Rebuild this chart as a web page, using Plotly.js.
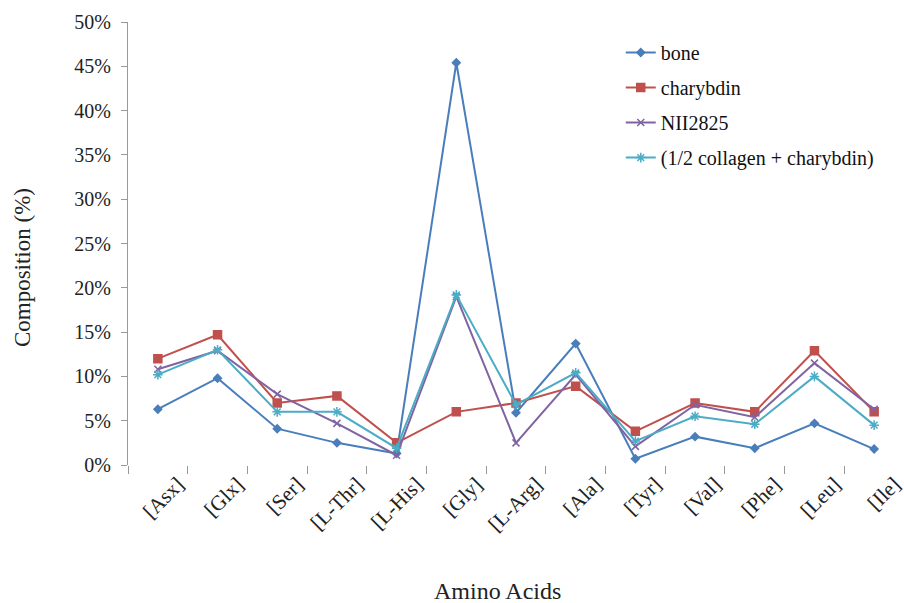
<!DOCTYPE html>
<html>
<head>
<meta charset="utf-8">
<script src="https://cdn.plot.ly/plotly-3.0.1.min.js"></script>
<style>html,body{margin:0;padding:0;background:#fff}#chart{width:904px;height:603px}</style>
</head>
<body>
<div id="chart"></div>
<script>
const categories = ["[Asx]","[Glx]","[Ser]","[L-Thr]","[L-His]","[Gly]","[L-Arg]","[Ala]","[Tyr]","[Val]","[Phe]","[Leu]","[Ile]"];
const bone =       [0.063,0.098,0.041,0.025,0.013,0.454,0.059,0.137,0.007,0.032,0.019,0.047,0.018];
const charybdin =  [0.120,0.147,0.070,0.078,0.025,0.060,0.070,0.089,0.038,0.070,0.060,0.129,0.060];
const nii2825 =    [0.108,0.129,0.080,0.047,0.011,0.190,0.025,0.102,0.021,0.068,0.054,0.115,0.063];
const collagenMix =[0.102,0.130,0.060,0.060,0.019,0.192,0.068,0.104,0.027,0.055,0.046,0.100,0.045];
const seriesNames = ["bone","charybdin","NII2825","(1/2 collagen + charybdin)"];

const font = "Liberation Serif";
function tr(y, name, color, symbol, size, group){
  return {x: categories, y: y, name: name, type: "scatter", mode: "lines+markers",
    legendgroup: group,
    line: {color: color, width: 2},
    marker: {symbol: symbol, size: size, color: color, line: {color: color, width: 1.5}}};
}
const data = [
  tr(bone, seriesNames[0], "#4A7EBB", "diamond", 6, "a"),
  tr(charybdin, seriesNames[1], "#C0504D", "square", 8, "b"),
  tr(nii2825, seriesNames[2], "#8064A2", "x-thin-open", 7, "c"),
  tr(collagenMix, seriesNames[3], "#4BACC6", "asterisk-open", 8, "d")
];
const layout = {
  width: 904, height: 603,
  margin: {l: 128, r: 0, t: 22, b: 138},
  paper_bgcolor: "#fff", plot_bgcolor: "#fff",
  font: {family: font, size: 16, color: "#222"},
  showlegend: true,
  legend: {x: 0.635, y: 0.975, xanchor: "left", yanchor: "top", font: {family: font, size: 20, color: "#111"},
    traceorder: "grouped", tracegroupgap: 6, bgcolor: "rgba(0,0,0,0)", itemwidth: 30},
  xaxis: {type: "category", range: [-0.5, 12.5], showgrid: false, zeroline: false, showline: false,
    ticks: "outside", tickson: "boundaries", ticklen: 8, tickcolor: "#999", tickangle: -45,
    ticklabelshift: 20, ticklabelstandoff: 2,
    tickfont: {family: font, size: 21, color: "#222"}},
  yaxis: {range: [0, 0.5], dtick: 0.05, tickformat: ".0%", showgrid: false, zeroline: false,
    showline: true, linecolor: "#999", linewidth: 1, ticks: "outside", ticklen: 6, tickcolor: "#999",
    ticklabelstandoff: 6,
    tickfont: {family: font, size: 20, color: "#222"}},
  annotations: [
    {text: "Composition (%)", xref: "paper", yref: "paper", x: -0.135, y: 0.445, xanchor: "center", yanchor: "middle",
     textangle: -90, showarrow: false, font: {family: font, size: 23, color: "#222"}},
    {text: "Amino Acids", xref: "paper", yref: "paper", x: 0.476, y: -0.285, xanchor: "center", yanchor: "middle",
     showarrow: false, font: {family: font, size: 24, color: "#222"}}
  ]
};
Plotly.newPlot("chart", data, layout, {displayModeBar: false, staticPlot: true});
</script>
</body>
</html>
